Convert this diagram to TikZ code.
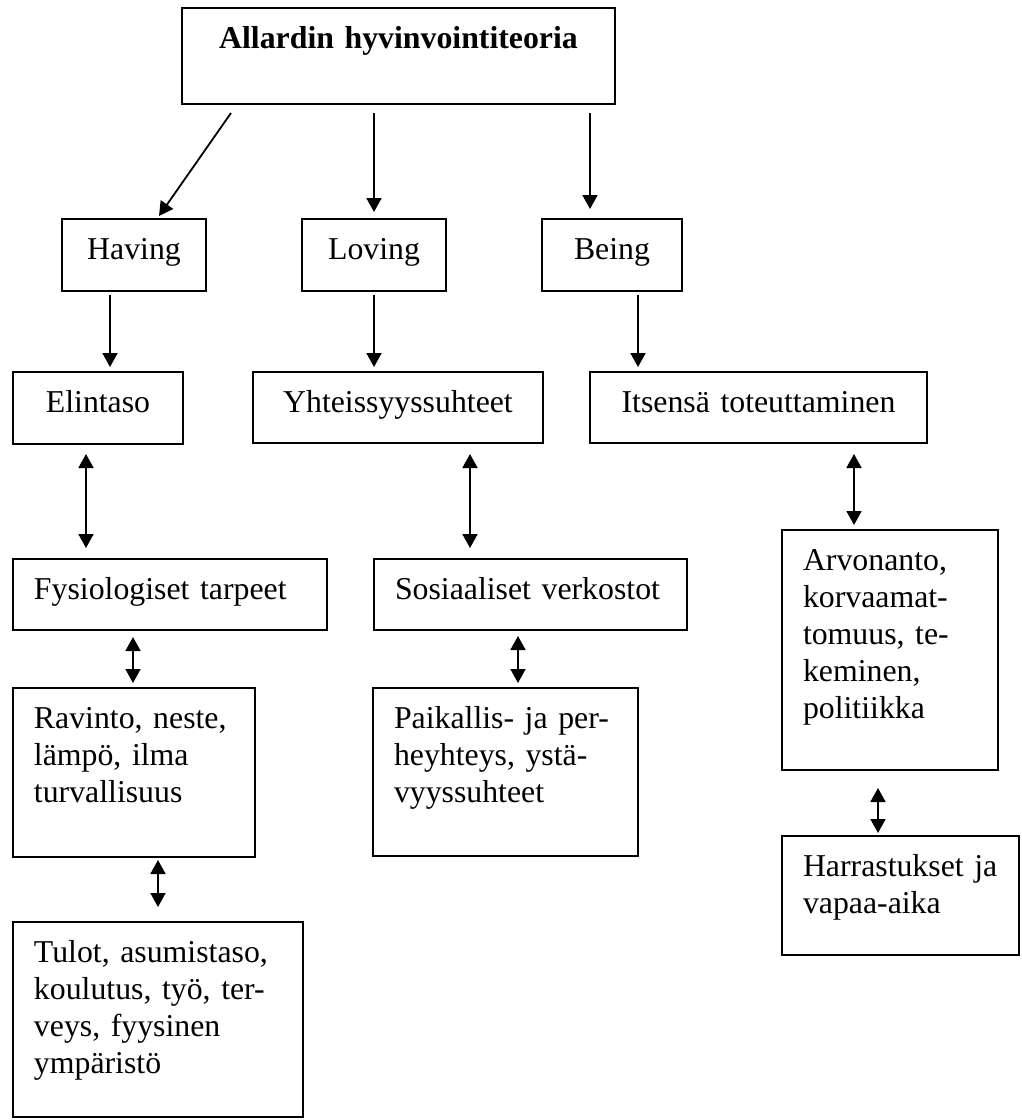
\documentclass[tikz,border=0pt]{standalone}
\usepackage{fontspec}
\setmainfont{Liberation Serif}
\usetikzlibrary{arrows.meta}
\tikzset{
  box/.style={draw=black,line width=2pt,anchor=north west,outer sep=0pt,inner xsep=21pt,inner ysep=0pt,text height=40pt,align=left},
  cbox/.style={box,inner xsep=10pt,align=center},
  arr/.style={->,line width=1.8pt},
  dbl/.style={<->,line width=1.8pt},
}
\begin{document}
\begin{tikzpicture}[x=1pt,y=-1pt,>={Triangle[length=14pt,width=15pt]},font=\fontsize{31.8pt}{37pt}\selectfont]
  \useasboundingbox (0,0) rectangle (1022,1120);
  % top
  \node[cbox,text width=413pt,text depth=56pt] (title) at (182,8) {\bfseries Allardin hyvinvointiteoria};
  % dimensions
  \node[cbox,text width=124pt,text depth=32pt] (having) at (62,219) {Having};
  \node[cbox,text width=124pt,text depth=32pt] (loving) at (302,219) {Loving};
  \node[cbox,text width=120pt,text depth=32pt] (being) at (542,219) {Being};
  \node[cbox,text width=150pt,text depth=32pt] (elintaso) at (13,372) {Elintaso};
  \node[cbox,text width=270pt,text depth=31pt] (yhteis) at (253,372) {Yhteissyyssuhteet};
  \node[cbox,text width=317pt,text depth=31pt] (itsensa) at (590,372) {Itsensä toteuttaminen};
  % needs
  \node[box,text width=272pt,text depth=31pt] (fysio) at (13,559) {Fysiologiset tarpeet};
  \node[box,text width=271pt,text depth=31pt] (sosiaal) at (374,559) {Sosiaaliset verkostot};
  \node[box,text width=174pt,text depth=200pt] (arvon) at (782,530) {Arvonanto,\\korvaamat-\\tomuus, te-\\keminen,\\politiikka};
  \node[box,text width=200pt,text depth=129pt] (ravinto) at (13,688) {Ravinto, neste,\\lämpö, ilma\\turvallisuus};
  \node[box,text width=223pt,text depth=128pt] (paikall) at (373,688) {Paikallis- ja per-\\heyhteys, ystä-\\vyyssuhteet};
  \node[box,text width=195pt,text depth=79pt] (harrast) at (782,836) {Harrastukset ja\\vapaa-aika};
  \node[box,text width=248pt,text depth=155pt] (tulot) at (13,922) {Tulot, asumistaso,\\koulutus, työ, ter-\\veys, fyysinen\\ympäristö};
  % arrows
  \draw[arr] ([xshift=-167.5pt,yshift=-9pt]title.south) -- ([xshift=25pt,yshift=3pt]having.north);
  \draw[arr] ([xshift=-24.5pt,yshift=-9pt]title.south) -- ([yshift=7pt]loving.north);
  \draw[arr] ([xshift=191.5pt,yshift=-9pt]title.south) -- ([xshift=-22pt,yshift=10pt]being.north);
  \draw[arr] ([xshift=-24pt,yshift=-4pt]having.south) -- ([xshift=12pt,yshift=5pt]elintaso.north);
  \draw[arr] ([yshift=-4pt]loving.south) -- ([xshift=-24pt,yshift=5pt]yhteis.north);
  \draw[arr] ([xshift=26pt,yshift=-4pt]being.south) -- ([xshift=-120.5pt,yshift=5pt]itsensa.north);
  % two-way arrows
  \draw[dbl] ([xshift=-12pt,yshift=-10pt]elintaso.south) -- ([xshift=-84pt,yshift=11pt]fysio.north);
  \draw[dbl] ([xshift=72pt,yshift=-11pt]yhteis.south) -- ([xshift=-60.5pt,yshift=11pt]sosiaal.north);
  \draw[dbl] ([xshift=95.5pt,yshift=-11pt]itsensa.south) -- ([xshift=-36pt,yshift=5pt]arvon.north);
  \draw[dbl] ([xshift=-37pt,yshift=-7pt]fysio.south) -- ([xshift=-1pt,yshift=5pt]ravinto.north);
  \draw[dbl] ([xshift=-12.5pt,yshift=-6pt]sosiaal.south) -- ([xshift=12.5pt,yshift=5pt]paikall.north);
  \draw[dbl] ([xshift=24pt,yshift=-3pt]ravinto.south) -- ([yshift=15pt]tulot.north);
  \draw[dbl] ([xshift=-12pt,yshift=-18pt]arvon.south) -- ([xshift=-22.5pt,yshift=3pt]harrast.north);
\end{tikzpicture}
\end{document}
